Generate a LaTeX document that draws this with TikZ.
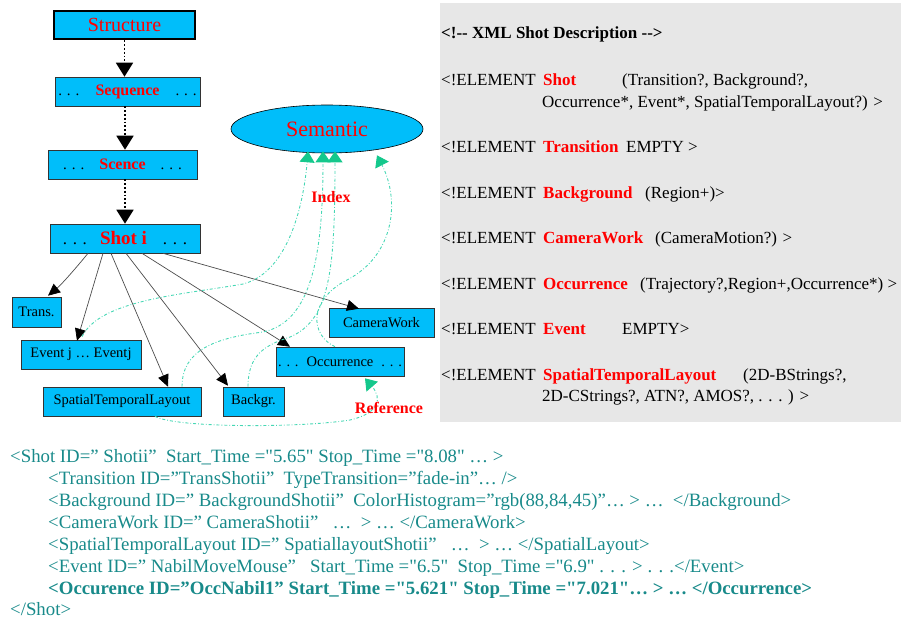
\documentclass[tikz,border=0pt]{standalone}
\usepackage{fontspec}
\setmainfont{Liberation Serif}[Ligatures=TeXOff]
\usetikzlibrary{arrows.meta,shapes.geometric}

\definecolor{boxblue}{RGB}{0,190,250}
\definecolor{panelgrey}{RGB}{231,231,231}
\definecolor{xmlteal}{RGB}{24,138,138}
\definecolor{linkgreen}{RGB}{70,215,180}
\definecolor{headgreen}{RGB}{20,200,140}
\definecolor{labelred}{RGB}{255,0,0}

\newcommand{\fs}[1]{\fontsize{#1}{#1}\selectfont}
\newcommand{\redb}[1]{\textcolor{labelred}{\bfseries #1}}

\tikzset{
  box/.style={draw=black!80, line width=0.6pt, fill=boxblue, inner sep=0pt, font=\rmfamily\fs{14.5}},
  dotlink/.style={draw=black, line width=1.8pt, dotted, -{Triangle[length=14pt,width=17pt,color=black]}},
  childlink/.style={draw=black!70, line width=0.7pt, -{Triangle[length=12pt,width=11pt,color=black]}},
  semlink/.style={draw=linkgreen, line width=0.9pt, dash pattern=on 3pt off 2pt on 0.8pt off 2pt,
    -{Triangle[length=11pt,width=15pt,color=headgreen]}},
  dtdtext/.style={anchor=base west, inner sep=0pt, font=\fs{17}},
  xmltext/.style={anchor=base west, inner sep=0pt, text=xmlteal, font=\fs{18.8}},
  lbl/.style={inner sep=0pt, text=labelred, font=\fs{16}\bfseries}
}

\begin{document}
\begin{tikzpicture}[x=1pt,y=-1pt]
\useasboundingbox (0,0) rectangle (901,618);

% DTD panel
\fill[panelgrey] (440,3) rectangle (901,422);
\node[dtdtext] (dtd0) at (441,38.5) {\bfseries <!-- XML Shot Description -->};
\node[dtdtext] (k1) at (441,85) {<!ELEMENT};
\node[dtdtext] (n1) at (543,85) {\redb{Shot}};
\node[dtdtext] (c1) at (622,85) {(Transition?, Background?,};
\node[dtdtext] (c1b) at (542,107) {Occurrence*, Event*, SpatialTemporalLayout?) >};
\node[dtdtext] (k2) at (441,152.5) {<!ELEMENT};
\node[dtdtext] (n2) at (543,152.5) {\redb{Transition}};
\node[dtdtext] (c2) at (626,152.5) {EMPTY >};
\node[dtdtext] (k3) at (441,198) {<!ELEMENT};
\node[dtdtext] (n3) at (543,198) {\redb{Background}};
\node[dtdtext] (c3) at (645,198) {(Region+)>};
\node[dtdtext] (k4) at (441,243.3) {<!ELEMENT};
\node[dtdtext] (n4) at (543,243.3) {\redb{CameraWork}};
\node[dtdtext] (c4) at (655,243.3) {(CameraMotion?) >};
\node[dtdtext] (k5) at (441,289) {<!ELEMENT};
\node[dtdtext] (n5) at (543,289) {\redb{Occurrence}};
\node[dtdtext] (c5) at (640,289) {(Trajectory?,Region+,Occurrence*) >};
\node[dtdtext] (k6) at (441,334.3) {<!ELEMENT};
\node[dtdtext] (n6) at (543,334.3) {\redb{Event}};
\node[dtdtext] (c6) at (622,334.3) {EMPTY>};
\node[dtdtext] (k7) at (441,380) {<!ELEMENT};
\node[dtdtext] (n7) at (543,380) {\redb{SpatialTemporalLayout}};
\node[dtdtext] (c7) at (743,380) {(2D-BStrings?,};
\node[dtdtext] (c7b) at (542,401.7) {2D-CStrings?, ATN?, AMOS?, . . . ) >};

% hierarchy boxes
\node[box, draw=black, line width=2.8pt, minimum width=141pt, minimum height=28pt] (structure) at (124.5,25)
  {\textcolor{labelred}{\fs{20}Structure}};
\node[box, minimum width=145pt, minimum height=29pt] (sequence) at (127.5,91.5)
  {\fs{15}. . .\hspace{16pt}\textcolor{labelred}{\fs{16}\bfseries Sequence}\hspace{16pt}. . .};
\node[box, minimum width=149pt, minimum height=29pt] (scence) at (122.5,164.5)
  {\fs{15}. . .\hspace{15pt}\textcolor{labelred}{\fs{16}\bfseries Scence}\hspace{15pt}. . .};
\node[box, minimum width=150pt, minimum height=29pt] (shot) at (125,238.5)
  {\fs{17}. . .\hspace{13pt}\textcolor{labelred}{\fs{19}\bfseries Shot i}\hspace{16pt}. . .};

\node[box, ellipse, draw=black, line width=0.6pt, minimum width=192pt, minimum height=48pt] (semantic) at (327,129)
  {\textcolor{labelred}{\fs{22}Semantic}};

% shot components
\node[box, minimum width=49pt, minimum height=30pt] (trans) at (36.5,312) {Trans.};
\node[box, minimum width=120pt, minimum height=29pt] (eventj) at (81,354.5) {Event j … Eventj};
\node[box, minimum width=158pt, minimum height=29pt] (stl) at (122,401.5) {SpatialTemporalLayout};
\node[box, minimum width=61pt, minimum height=29pt] (backgr) at (253.5,401.5) {Backgr.};
\node[box, minimum width=128pt, minimum height=29pt] (occ) at (340,361.5)
  {. . .\hspace{8pt}Occurrence\hspace{8pt}. . .};
\node[box, minimum width=105pt, minimum height=29pt] (camera) at (381.5,322.5) {CameraWork};

% structural chain
\draw[dotlink] (structure.south) -- (structure.south |- sequence.north);
\draw[dotlink] ([xshift=-2.5pt]sequence.south) -- ([xshift=-2.5pt]sequence.south |- scence.north);
\draw[dotlink] ([xshift=2.5pt]scence.south) -- ([xshift=2.5pt]scence.south |- shot.north);

% shot to components
\draw[childlink] ([xshift=-37pt]shot.south) .. controls (76,268) and (62,284) .. ([xshift=11.5pt,yshift=1pt]trans.north);
\draw[childlink] ([xshift=-22pt]shot.south) -- ([xshift=-4pt,yshift=-1pt]eventj.north);
\draw[childlink] ([xshift=-14pt]shot.south) -- ([xshift=46pt]stl.north);
\draw[childlink] ([xshift=1pt]shot.south) -- ([xshift=-25.5pt,yshift=1pt]backgr.north);
\draw[childlink] ([xshift=17pt]shot.south) -- ([xshift=-50pt]occ.north);
\draw[childlink] ([xshift=38pt]shot.south) -- ([xshift=-22.5pt,yshift=-1pt]camera.north);

% index links to the semantic layer
\draw[semlink] ([xshift=1pt,yshift=3pt]eventj.north) .. controls (100,300) and (180,295) .. (243,284)
  .. controls (290,272) and (304,200) .. ([xshift=-19pt,yshift=2pt]semantic.south);
\draw[semlink] ([xshift=60pt]stl.north) .. controls (182,350) and (215,338) .. (263,332)
  .. controls (310,322) and (323,260) .. ([xshift=-4pt,yshift=2pt]semantic.south);
\draw[semlink] ([xshift=-5.5pt]backgr.north) .. controls (248,355) and (265,345) .. (290,337)
  .. controls (330,320) and (335,270) .. ([xshift=8pt,yshift=2pt]semantic.south);
\draw[semlink] ([xshift=-5pt]occ.north) .. controls (310,335) and (308,300) .. (347,280)
  .. controls (395,255) and (400,200) .. ([xshift=50pt,yshift=-2pt]semantic.south);
% reference link
\draw[semlink] ([xshift=33pt]stl.south) .. controls (175,428) and (300,428) .. (350,420)
  .. controls (380,413) and (382,398) .. ([xshift=25pt,yshift=-2pt]occ.south);

\node[lbl] (index) at (331,197) {Index};
\node[lbl] (reference) at (389,408) {Reference};

% XML instance
\node[xmltext] (x1) at (10,462) {<Shot ID=” Shotii”\ \ Start\_Time ="5.65" Stop\_Time ="8.08" … >};
\node[xmltext] (x2) at (48,484) {<Transition ID=”TransShotii”\ \ TypeTransition=”fade-in”… />};
\node[xmltext] (x3) at (48,506) {<Background ID=” BackgroundShotii”\ \ ColorHistogram=”rgb(88,84,45)”… > …\ \ </Background>};
\node[xmltext] (x4) at (48,528) {<CameraWork ID=” CameraShotii”\ \ \ …\ \ > … </CameraWork>};
\node[xmltext] (x5) at (48,550) {<SpatialTemporalLayout ID=” SpatiallayoutShotii”\ \ \ …\ \ > … </SpatialLayout>};
\node[xmltext] (x6) at (48,572) {<Event ID=” NabilMoveMouse”\ \ \ Start\_Time ="6.5"\ \ Stop\_Time ="6.9" . . . > . . .</Event>};
\node[xmltext] (x7) at (48,594) {\bfseries <Occurence ID=”OccNabil1” Start\_Time ="5.621" Stop\_Time ="7.021"… > … </Occurrence>};
\node[xmltext] (x8) at (10,615.5) {</Shot>};
\end{tikzpicture}
\end{document}
